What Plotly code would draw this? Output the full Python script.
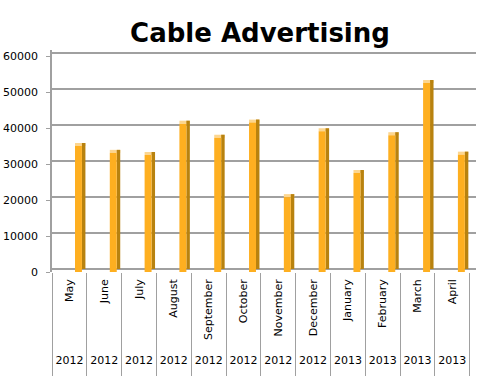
import plotly.graph_objects as go

months = ["May", "June", "July", "August", "September", "October", "November",
          "December", "January", "February", "March", "April"]
years = ["2012"] * 8 + ["2013"] * 4
values = [35000, 33100, 32500, 41200, 37300, 41500, 20800, 39100, 27500, 38000, 52500, 32600]
yticks = [0, 10000, 20000, 30000, 40000, 50000, 60000]
ytext = [str(v) for v in yticks]

idx = list(range(len(months)))
depth = 830  # pseudo-3D depth in data units
xr = [-0.5, 11.68]

fig = go.Figure()
# top face (light)
fig.add_trace(go.Bar(x=idx, y=[depth] * 12, base=values, offset=0.16, width=0.3,
                     marker=dict(color="#FCD690", line=dict(width=0)), xaxis="x", yaxis="y",
                     hoverinfo="skip"))
# side face (dark)
fig.add_trace(go.Bar(x=idx, y=values, base=[depth] * 12, offset=0.36, width=0.1,
                     marker=dict(color="#B8820F", line=dict(width=0)), xaxis="x", yaxis="y",
                     hoverinfo="skip"))
# front face
fig.add_trace(go.Bar(x=idx, y=values, offset=0.16, width=0.2,
                     marker=dict(color="#FEAF20", line=dict(width=0)), xaxis="x", yaxis="y"))

# dummy traces to activate helper axes
fig.add_trace(go.Scatter(x=[0], y=[None], xaxis="x2", yaxis="y", showlegend=False, hoverinfo="skip"))
fig.add_trace(go.Scatter(x=[0], y=[None], xaxis="x3", yaxis="y", showlegend=False, hoverinfo="skip"))
fig.add_trace(go.Scatter(x=[0], y=[None], xaxis="x", yaxis="y2", showlegend=False, hoverinfo="skip"))

font = "DejaVu Sans, Verdana, sans-serif"
fig.update_layout(
    width=500, height=376,
    margin=dict(l=52, r=24, t=50, b=8, autoexpand=False),
    paper_bgcolor="white", plot_bgcolor="white",
    showlegend=False, barmode="overlay",
    font=dict(family=font, size=11, color="black"),
    title=dict(text="<b>Cable Advertising</b>", x=0.52, xanchor="center", y=0.912, yanchor="middle",
               font=dict(family=font, size=26, color="black")),
    xaxis=dict(range=xr, tickmode="array", tickvals=idx, ticktext=months, tickangle=-90,
               ticks="", showgrid=False, zeroline=False, showline=False, automargin=False,
               ticklabelstandoff=4, anchor="y", tickfont=dict(size=11)),
    xaxis2=dict(range=xr, overlaying="x", anchor="free", position=0.007, side="top",
                tickmode="array", tickvals=idx, ticktext=years, ticks="", showgrid=False,
                automargin=False, zeroline=False, showline=False, tickfont=dict(size=11)),
    xaxis3=dict(range=xr, overlaying="x", anchor="y", side="bottom", automargin=False,
                tickmode="array", tickvals=[i - 0.5 for i in range(13)], ticktext=[""] * 13,
                ticks="outside", ticklen=104, tickcolor="#a0a0a0", tickwidth=1,
                showgrid=False, zeroline=False, showline=False, showticklabels=False),
    yaxis=dict(domain=[0.3019, 1], range=[0, 61667], tickmode="array", tickvals=yticks,
               ticktext=ytext, automargin=False, ticklabelstandoff=6, ticklabeloverflow="allow",
               ticks="outside", ticklen=4, tickcolor="#a0a0a0", showgrid=False, zeroline=False,
               showline=True, linecolor="#a0a0a0", linewidth=1.5, tickfont=dict(size=11)),
    yaxis2=dict(overlaying="y", range=[-830, 60837], tickmode="array", tickvals=yticks,
                showticklabels=False, ticks="", showgrid=True, gridcolor="#a0a0a0", gridwidth=1.5,
                automargin=False, zeroline=False, showline=False),
)

fig.write_html("out.html", config={"displayModeBar": False},
               post_script="document.body.style.margin='0';")
